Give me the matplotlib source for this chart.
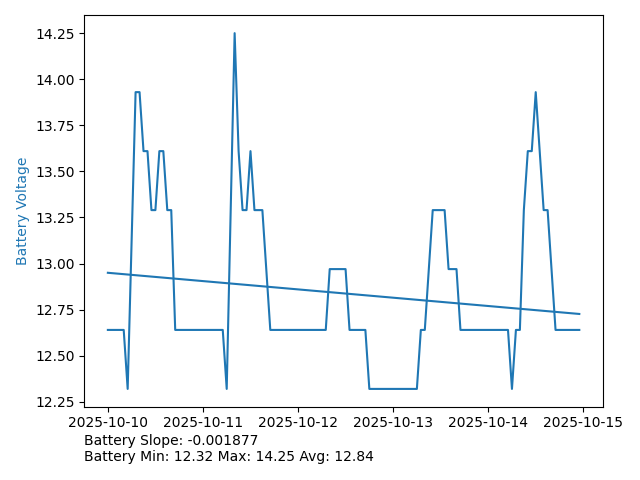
import numpy as np
import pandas as pd
import matplotlib
matplotlib.use("Agg")
import matplotlib.pyplot as plt

# hours since 2025-10-10 00:00 and the battery voltage read at that time
hours = [0, 4, 5, 7, 8, 9, 10, 11, 12, 13, 14, 15, 16, 17, 29, 30, 32, 33, 34, 35,
         36, 37, 39, 41, 55, 56, 60, 61, 65, 66, 78, 79, 80, 82, 85, 86, 88, 89,
         101, 102, 103, 104, 105, 106, 107, 108, 110, 111, 113, 119]
volts = [12.64, 12.64, 12.32, 13.93, 13.93, 13.61, 13.61, 13.29, 13.29, 13.61,
         13.61, 13.29, 13.29, 12.64, 12.64, 12.32, 14.25, 13.61, 13.29, 13.29,
         13.61, 13.29, 13.29, 12.64, 12.64, 12.97, 12.97, 12.64, 12.64, 12.32,
         12.32, 12.64, 12.64, 13.29, 13.29, 12.97, 12.97, 12.64, 12.64, 12.32,
         12.64, 12.64, 13.29, 13.61, 13.61, 13.93, 13.29, 13.29, 12.64, 12.64]

trend_start = 12.95
slope = -0.001877  # volts per hour

start = pd.Timestamp("2025-10-10")
times = start + pd.to_timedelta(hours, unit="h")
h = np.array(hours, dtype=float)
trend = trend_start + slope * h

fig = plt.figure(figsize=(6.4, 4.8), dpi=100)
ax = fig.add_subplot(111)
fig.subplots_adjust(left=0.1317, right=0.942, bottom=0.1527, top=0.968)

ax.plot(times, volts, color="tab:blue")
ax.plot(times, trend, color="tab:blue")
ax.set_ylabel("Battery Voltage", color="tab:blue")

fig.text(0.1317, 0.0638,
         "Battery Slope: -0.001877\nBattery Min: 12.32 Max: 14.25 Avg: 12.84",
         ha="left", va="center")

plt.savefig("out.png")
